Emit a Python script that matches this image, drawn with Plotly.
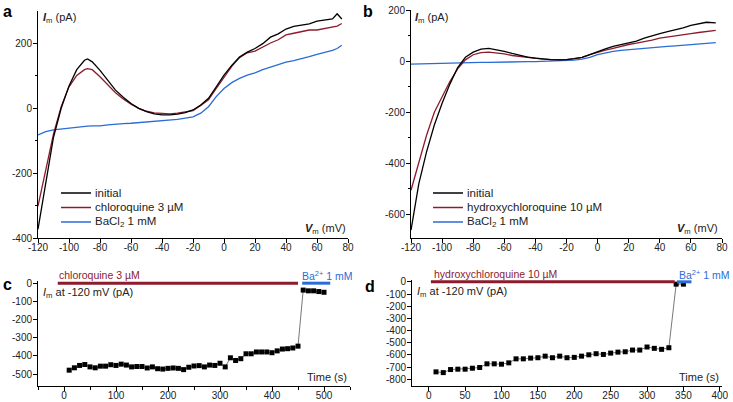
import plotly.graph_objects as go

W, H = 733, 402

# ---------- Panel a: I-V, chloroquine ----------
va = [-120, -115, -110, -105, -100, -95, -90, -88, -85, -80, -75, -70, -65, -60, -55, -50, -45, -40,
      -35, -30, -25, -20, -15, -10, -5, 0, 5, 10, 15, 20, 25, 30, 35, 40, 45, 50, 55, 60, 65, 70, 73, 76]
a_initial = [-373, -230, -90, 0, 68, 118, 147, 151, 142, 116, 86, 55, 33, 14, -1, -11, -18, -21,
             -21, -19, -14, -6, 9, 30, 65, 101, 131, 157, 172, 183, 198, 218, 228, 243, 251, 254, 259, 267, 271, 274, 290, 274]
a_chloro = [-302, -190, -80, 5, 65, 100, 118, 121, 118, 96, 71, 47, 28, 12, -1, -10, -15, -17,
            -18, -16, -13, -8, 8, 25, 60, 95, 128, 155, 170, 175, 188, 200, 210, 225, 230, 235, 240, 240, 245, 250, 252, 260]
a_ba = [-83, -73, -67, -64, -62, -59, -57, -56, -55, -55, -52, -49, -48, -47, -45, -44, -41, -39,
        -37, -35, -31, -27, -16, 4, 35, 60, 78, 91, 101, 108, 118, 126, 133, 141, 146, 151, 158, 165, 170, 177, 183, 193]

# ---------- Panel b: I-V, hydroxychloroquine ----------
vb = [-120, -115, -110, -105, -100, -95, -90, -85, -80, -75, -70, -65, -60, -55, -50, -45, -40, -35,
      -30, -25, -20, -15, -10, -5, 0, 5, 10, 15, 20, 25, 30, 35, 40, 45, 50, 55, 60, 65, 70, 76]
b_initial = [-661, -480, -355, -250, -165, -90, -25, 15, 35, 47, 50, 45, 38, 30, 22, 16, 12, 8,
             6, 5, 6, 10, 15, 25, 38, 48, 58, 65, 70, 78, 90, 100, 108, 115, 122, 130, 140, 145, 152, 150]
b_hcq = [-505, -400, -290, -200, -140, -80, -30, 5, 25, 33, 35, 32, 28, 22, 18, 14, 10, 8,
         6, 6, 6, 10, 15, 25, 35, 43, 50, 58, 65, 70, 75, 82, 90, 95, 100, 104, 108, 112, 115, 120]
b_ba = [-12, -11, -11, -10, -10, -9, -8, -7, -6, -5, -5, -4, -4, -3, -3, -2, -2, -1,
        0, 1, 2, 4, 8, 15, 25, 32, 38, 42, 45, 48, 50, 53, 55, 58, 60, 62, 65, 66, 68, 72]

# ---------- Panel c: time course, chloroquine ----------
tc = [10, 20, 30, 40, 50, 60, 70, 80, 90, 100, 110, 120, 130, 140, 150, 160, 170, 180, 190, 200,
      210, 220, 230, 240, 250, 260, 270, 280, 290, 300, 310, 320, 330, 340, 350, 360, 370, 380, 390,
      400, 410, 420, 430, 440, 450, 460, 470, 480, 490, 500]
ic = [-478, -465, -452, -447, -460, -465, -456, -456, -448, -452, -445, -450, -460, -458, -458, -466,
      -460, -470, -472, -468, -466, -468, -475, -462, -455, -453, -460, -450, -452, -440, -460, -410,
      -425, -415, -388, -388, -378, -378, -378, -382, -372, -362, -360, -356, -346, -38, -42, -42, -46, -50]
c_drug = [-12, 450]
c_ba = [458, 512]

# ---------- Panel d: time course, hydroxychloroquine ----------
td = [10, 20, 30, 40, 50, 60, 70, 80, 90, 100, 110, 120, 130, 140, 150, 160, 170, 180, 190, 200,
      210, 220, 230, 240, 250, 260, 270, 280, 290, 300, 310, 320, 330, 340, 350]
idd = [-739, -745, -720, -717, -717, -709, -703, -673, -673, -676, -665, -632, -632, -626, -623, -610,
       -623, -610, -623, -620, -610, -599, -590, -596, -585, -577, -574, -560, -560, -535, -546, -554,
       -541, -19, -19]
d_drug = [3, 338]
d_ba = [341, 361]

# tick values
ticks_v = list(range(-120, 81, 20))
ticks_a_y = [-400, -200, 0, 200]
ticks_b_y = [-600, -400, -200, 0, 200]
ticks_c_x = [0, 100, 200, 300, 400, 500]
ticks_c_y = [0, -100, -200, -300, -400, -500]
ticks_d_x = list(range(0, 401, 50))
ticks_d_y = list(range(0, -801, -100))

BLACK = "#000000"
RED = "#8c1c2c"
BLUE = "#2a6cd6"
FONT = "Liberation Sans, Arial, sans-serif"

fig = go.Figure()

def line(x, y, color, xa, ya, w=1.3):
    fig.add_trace(go.Scatter(x=x, y=y, mode="lines", line=dict(color=color, width=w),
                             xaxis=xa, yaxis=ya, showlegend=False, hoverinfo="skip"))

line(va, a_ba, BLUE, "x", "y")
line(va, a_chloro, RED, "x", "y")
line(va, a_initial, BLACK, "x", "y")
line(vb, b_ba, BLUE, "x2", "y2")
line(vb, b_hcq, RED, "x2", "y2")
line(vb, b_initial, BLACK, "x2", "y2")

for t, v, xa, ya in [(tc, ic, "x3", "y3"), (td, idd, "x4", "y4")]:
    fig.add_trace(go.Scatter(x=t, y=v, mode="lines+markers", xaxis=xa, yaxis=ya,
                             line=dict(color="#555555", width=0.8),
                             marker=dict(symbol="square", size=5, color="black"),
                             showlegend=False, hoverinfo="skip"))

for bar, col, xa, ya in [(c_drug, RED, "x3", "y3"), (c_ba, BLUE, "x3", "y3"),
                         (d_drug, RED, "x4", "y4"), (d_ba, BLUE, "x4", "y4")]:
    fig.add_trace(go.Scatter(x=bar, y=[0, 0], mode="lines", line=dict(color=col, width=3),
                             xaxis=xa, yaxis=ya, showlegend=False, hoverinfo="skip"))

def px(xp):
    return xp / W

def py(yp):
    return 1 - yp / H

def lab(vals):
    return [str(v) for v in vals]

axis_common = dict(showline=True, linecolor="black", linewidth=1, ticks="outside", ticklen=4,
                   tickwidth=1, tickcolor="black", showgrid=False, zeroline=False, automargin=False,
                   tickfont=dict(family=FONT, size=10, color="#222"))

def ax(domain, rng, tv, anchor, minor=None, standoff=0):
    d = dict(domain=domain, range=rng, tickmode="array", tickvals=tv, ticktext=lab(tv),
             anchor=anchor, ticklabelstandoff=standoff, **axis_common)
    if minor:
        d["minor"] = dict(tickvals=minor, ticks="outside", ticklen=2.5, tickcolor="black")
    return d

fig.update_layout(
    template="none",
    width=W, height=H, margin=dict(l=0, r=0, t=0, b=0, autoexpand=False),
    paper_bgcolor="white", plot_bgcolor="white",
    font=dict(family=FONT, size=11, color="#222"),
    xaxis=ax([px(38), px(348)], [-120, 80], ticks_v, "y", standoff=-4),
    yaxis=ax([py(238), py(10.5)], [-400, 300], ticks_a_y, "x", [-300, -100, 100], standoff=-1),
    xaxis2=ax([px(411), px(722)], [-120, 80], ticks_v, "y2", standoff=-4),
    yaxis2=ax([py(238), py(10)], [-692, 200], ticks_b_y, "x2", [-500, -300, -100, 100], standoff=-1),
    xaxis3=ax([px(38), px(350)], [-50, 550], ticks_c_x, "y3", [-50, 50, 150, 250, 350, 450, 550], standoff=-4),
    yaxis3=ax([py(386), py(281)], [-565, 12], ticks_c_y, "x3", standoff=-1),
    xaxis4=ax([px(412), px(722)], [-23, 403], ticks_d_x, "y4", standoff=-4),
    yaxis4=ax([py(386), py(280)], [-855, 15], ticks_d_y, "x4", standoff=-1),
)

ann = []
def text(xp, yp, s, xanchor="left", size=11, color="#222", yanchor="middle"):
    ann.append(dict(x=px(xp), y=py(yp), xref="paper", yref="paper", text=s, showarrow=False,
                    xanchor=xanchor, yanchor=yanchor, font=dict(family=FONT, size=size, color=color)))

# panel letters
text(1, 11, "<b>a</b>", size=16, color="black")
text(361, 11, "<b>b</b>", size=16, color="black")
text(1, 284, "<b>c</b>", size=16, color="black")
text(363, 286, "<b>d</b>", size=16, color="black")

# axis titles
text(41, 18, "<b><i>I</i></b><sub>m</sub> (pA)")
text(413, 18, "<b><i>I</i></b><sub>m</sub> (pA)")
text(348, 229, "<b><i>V</i></b><sub>m</sub> (mV)", xanchor="right")
text(720, 229, "<b><i>V</i></b><sub>m</sub> (mV)", xanchor="right")
text(349, 377, "Time (s)", xanchor="right")
text(721, 377, "Time (s)", xanchor="right")
text(41, 293, "<i>I</i><sub>m</sub> at -120 mV (pA)", size=11)
text(415, 292, "<i>I</i><sub>m</sub> at -120 mV (pA)", size=11)

# bar labels
text(57, 275, "chloroquine 3 µM", color=RED, size=10.5)
text(300, 275, "Ba<sup>2+</sup> 1 mM", color=BLUE, size=10.5)
text(432, 274, "hydroxychloroquine 10 µM", color=RED, size=10.5)
text(677, 274, "Ba<sup>2+</sup> 1 mM", color=BLUE, size=10.5)

# legends (manual)
shapes = []
def legend(x0, entries):
    for i, (lbl, col) in enumerate(entries):
        yp = 193 + i * 14.5
        shapes.append(dict(type="line", xref="paper", yref="paper", x0=px(x0), x1=px(x0 + 30),
                           y0=py(yp), y1=py(yp), line=dict(color=col, width=1.5)))
        text(x0 + 32, yp, lbl, size=11.5)

legend(61, [("initial", BLACK), ("chloroquine 3 µM", RED), ("BaCl<sub>2</sub> 1 mM", BLUE)])
legend(433, [("initial", BLACK), ("hydroxychloroquine 10 µM", RED), ("BaCl<sub>2</sub> 1 mM", BLUE)])

fig.update_layout(annotations=ann, shapes=shapes)
fig.write_html("out.html", config={"displayModeBar": False},
               post_script="document.body.style.margin='0';document.body.style.overflow='hidden';")
